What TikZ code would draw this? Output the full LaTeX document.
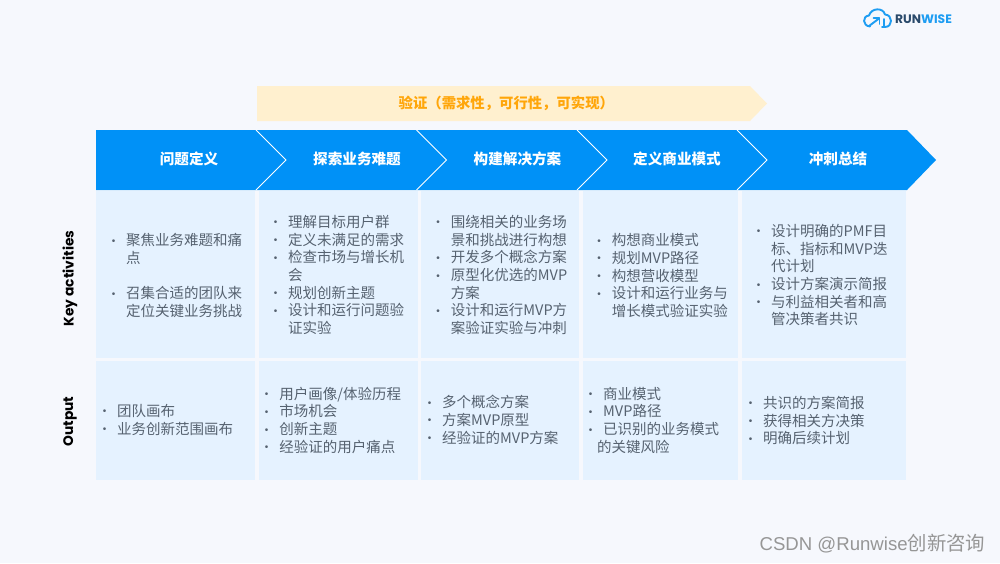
\documentclass[tikz,border=0pt]{standalone}
\usepackage{fontspec}
\setmainfont{Liberation Sans}
\newfontfamily\cjk{Noto Sans CJK SC}
\newfontfamily\lab{Poppins}
\definecolor{bgc}{HTML}{F6F8FD}
\definecolor{cellc}{HTML}{E5F2FF}
\definecolor{bluec}{HTML}{0091F7}
\definecolor{yelc}{HTML}{FFF0CF}
\definecolor{orac}{HTML}{FFA60A}
\definecolor{txtc}{HTML}{566270}
\definecolor{navyc}{HTML}{2A4A6B}
\definecolor{logoc}{HTML}{1E9DF2}
\definecolor{wmc}{HTML}{969696}
\newcommand{\bul}{\makebox[12.7pt][l]{\hspace{-1.75pt}\raisebox{1.5pt}{\rmfamily\fontsize{10}{10}\selectfont •}}}
\newcommand{\ind}{\hspace*{12.7pt}}
\newcommand{\topstrut}{\rule{0pt}{15pt}}
\newcommand{\bodyfont}{\cjk\fontsize{14.5}{17.7}\selectfont\lineskiplimit=-100pt\relax}
\tikzset{
  x=1pt,y=-1pt,
  cellbox/.style={fill=cellc,draw=none},
  sepline/.style={draw=white,line width=0.8pt},
  headtxt/.style={text=white,inner sep=0pt,font=\cjk\bfseries\fontsize{14.6}{17}\selectfont},
  bodytxt/.style={text=txtc,inner sep=0pt,anchor=north west,align=left,font=\bodyfont},
  sidetxt/.style={text=black,inner sep=0pt,rotate=90,font=\lab\bfseries\fontsize{13.8}{15}\selectfont},
}
\begin{document}
\begin{tikzpicture}
\useasboundingbox (0,0) rectangle (1000,563);
\fill[bgc] (0,0) rectangle (1000,563);
% validation arrow
\fill[yelc] (257,86) -- (750,86) -- (767,103.5) -- (750,121) -- (257,121) -- cycle;
\node[inner sep=0pt,anchor=west,text=orac,font=\cjk\bfseries\fontsize{14.35}{17}\selectfont] (verify) at (398.5,103) {验证（需求性，可行性，可实现）};
% header band
\fill[bluec] (96,130) -- (907,130) -- (936,160) -- (907,190) -- (96,190) -- cycle;
\foreach \a in {256,416.5,577,737}{
  \draw[sepline] (\a,130) -- (\a+30,160) -- (\a,190);
}
\node[headtxt] (h1) at (189,159) {问题定义};
\node[headtxt] (h2) at (357,159) {探索业务难题};
\node[headtxt] (h3) at (517.5,159) {构建解决方案};
\node[headtxt] (h4) at (677,159) {定义商业模式};
\node[headtxt] (h5) at (838,159) {冲刺总结};
% cells
\foreach \l/\r in {96/255,259/418,421/579,582.5/738,742/906}{
  \fill[cellbox] (\l,191) rectangle (\r,358);
  \fill[cellbox] (\l,361) rectangle (\r,480);
}
% side labels
\node[sidetxt] (k) at (70,278.5) {Key activities};
\node[sidetxt] (o) at (70,421.5) {Output};
% row 1
\node[bodytxt] (a1) at (113.3,230.5) {\topstrut\bul 聚焦业务难题和痛\\\ind 点\\\mbox{}\\\bul 召集合适的团队来\\\ind 定位关键业务挑战};
\node[bodytxt] (a2) at (275.3,212.2) {\topstrut\bul 理解目标用户群\\\bul 定义未满足的需求\\\bul 检查市场与增长机\\\ind 会\\\bul 规划创新主题\\\bul 设计和运行问题验\\\ind 证实验};
\node[bodytxt] (a3) at (438,212.2) {\topstrut\bul 围绕相关的业务场\\\ind 景和挑战进行构想\\\bul 开发多个概念方案\\\bul 原型化优选的MVP\\\ind 方案\\\bul 设计和运行MVP方\\\ind 案验证实验与冲刺};
\node[bodytxt] (a4) at (599,230.5) {\topstrut\bul 构想商业模式\\\bul 规划MVP路径\\\bul 构想营收模型\\\bul 设计和运行业务与\\\ind 增长模式验证实验};
\node[bodytxt] (a5) at (758.3,221.2) {\topstrut\bul 设计明确的PMF目\\\ind 标、指标和MVP迭\\\ind 代计划\\\bul 设计方案演示简报\\\bul 与利益相关者和高\\\ind 管决策者共识};
% row 2
\node[bodytxt] (b1) at (104.3,401.2) {\topstrut\bul 团队画布\\\bul 业务创新范围画布};
\node[bodytxt] (b2) at (266.5,384) {\topstrut\bul 用户画像/体验历程\\\bul 市场机会\\\bul 创新主题\\\bul 经验证的用户痛点};
\node[bodytxt] (b3) at (429.3,392.5) {\topstrut\bul 多个概念方案\\\bul 方案MVP原型\\\bul 经验证的MVP方案};
\node[bodytxt] (b4) at (590.3,384) {\topstrut\bul 商业模式\\\bul MVP路径\\\bul 已识别的业务模式\\\hspace*{6.5pt}的关键风险};
\node[bodytxt] (b5) at (750.3,393.2) {\topstrut\bul 共识的方案简报\\\bul 获得相关方决策\\\bul 明确后续计划};
% logo
\begin{scope}[line width=1.9pt,draw=logoc,line cap=round,line join=round]
\draw (870,26.5) .. controls (862.5,26) and (862,16) .. (869,15.5)
  .. controls (871,8) and (883,7) .. (885,14.5)
  .. controls (893,15) and (893,27) .. (885,27) -- (882,27);
\draw (869,26) -- (879,18.5);
\draw (873.5,18) -- (879.5,18) -- (879.5,24);
\draw (884,19) -- (884,27);
\end{scope}
\node[inner sep=0pt,anchor=base west,font=\lab\bfseries\fontsize{12.3}{14}\selectfont] (logo) at (895,23.3) {\textcolor{navyc}{RUN}\textcolor{logoc}{WISE}};
% watermark
\node[inner sep=0pt,anchor=base east,text=wmc,font=\fontsize{18.6}{22}\selectfont] (wm) at (985.5,550) {CSDN @Runwise{\cjk\fontsize{19.4}{22}\selectfont 创新咨询}};
\end{tikzpicture}
\end{document}
